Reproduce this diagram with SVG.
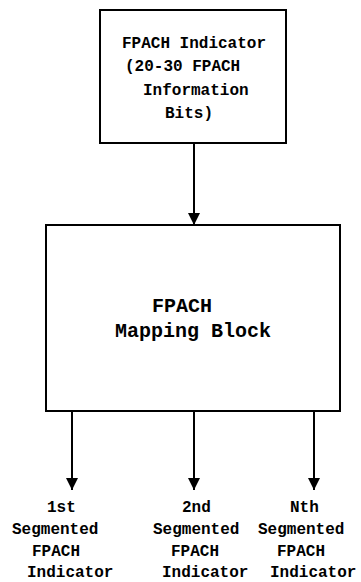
<svg xmlns="http://www.w3.org/2000/svg" width="361" height="582" viewBox="0 0 361 582">
<style>
.box{fill:#fff;stroke:#000;stroke-width:2}
.ln{stroke:#000;stroke-width:2;fill:none}
.t{font-family:"Liberation Mono",monospace;font-size:16px;font-weight:bold;fill:#000}
.tb{font-family:"Liberation Mono",monospace;font-size:20px;font-weight:bold;fill:#000}
</style>
<defs>
<marker id="ah" markerWidth="12" markerHeight="12" refX="12" refY="6" orient="auto" markerUnits="userSpaceOnUse">
<path d="M0,0 L12,6 L0,12 Z" fill="#000"/>
</marker>
</defs>
<rect width="361" height="582" fill="#fff"/>
<g id="connectors">
<line class="ln" x1="194" y1="143" x2="194" y2="225" marker-end="url(#ah)"/>
<line class="ln" x1="72" y1="411" x2="72" y2="490" marker-end="url(#ah)"/>
<line class="ln" x1="194" y1="411" x2="194" y2="490" marker-end="url(#ah)"/>
<line class="ln" x1="314" y1="411" x2="314" y2="490" marker-end="url(#ah)"/>
</g>
<g id="indicator">
<rect class="box" x="100" y="10" width="186" height="133"/>
<text class="t" x="122" y="48">FPACH Indicator</text>
<text class="t" x="125" y="71">(20-30 FPACH</text>
<text class="t" x="143" y="95">Information</text>
<text class="t" x="165" y="118">Bits)</text>
</g>
<g id="mapping">
<rect class="box" x="46" y="225" width="294" height="186"/>
<text class="tb" x="152" y="312">FPACH</text>
<text class="tb" x="115" y="337">Mapping Block</text>
</g>
<g id="seg1">
<text class="t" x="47" y="512">1st</text>
<text class="t" x="12" y="534">Segmented</text>
<text class="t" x="32" y="556">FPACH</text>
<text class="t" x="27" y="577">Indicator</text>
</g>
<g id="seg2">
<text class="t" x="182" y="512">2nd</text>
<text class="t" x="153" y="534">Segmented</text>
<text class="t" x="171" y="556">FPACH</text>
<text class="t" x="162" y="577">Indicator</text>
</g>
<g id="segN">
<text class="t" x="290" y="512">Nth</text>
<text class="t" x="258" y="534">Segmented</text>
<text class="t" x="277" y="556">FPACH</text>
<text class="t" x="270" y="577">Indicator</text>
</g>
</svg>
